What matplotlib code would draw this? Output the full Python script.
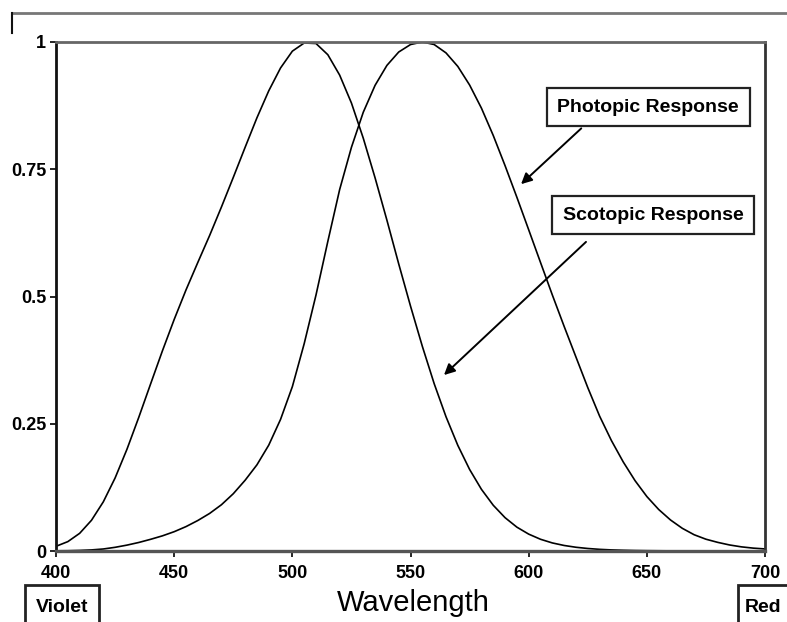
import matplotlib
matplotlib.use("Agg")
import matplotlib.pyplot as plt
from matplotlib.patches import Rectangle
from matplotlib.lines import Line2D

plt.rcParams['font.family'] = ['Liberation Sans', 'DejaVu Sans']

# longitudes de onda (nm), paso de 5 nm
wavelength = list(range(400, 705, 5))

# respuesta fotópica (visión diurna), pico en 555 nm
photopic = [0.0004, 0.0006, 0.0012, 0.0022, 0.0040, 0.0073, 0.0116, 0.0168,
            0.0230, 0.0298, 0.0380, 0.0480, 0.0600, 0.0739, 0.0910, 0.1126,
            0.1390, 0.1693, 0.2080, 0.2586, 0.3230, 0.4073, 0.5030, 0.6082,
            0.7100, 0.7932, 0.8620, 0.9149, 0.9540, 0.9803, 0.9950, 1.0000,
            0.9950, 0.9786, 0.9520, 0.9154, 0.8700, 0.8163, 0.7570, 0.6949,
            0.6310, 0.5668, 0.5030, 0.4412, 0.3810, 0.3210, 0.2650, 0.2170,
            0.1750, 0.1382, 0.1070, 0.0816, 0.0610, 0.0446, 0.0320, 0.0232,
            0.0170, 0.0119, 0.0082, 0.0057, 0.0041]

# respuesta escotópica (visión nocturna), pico en 507 nm
scotopic = [0.0093, 0.0185, 0.0348, 0.0604, 0.0966, 0.1436, 0.1998, 0.2625,
            0.3281, 0.3931, 0.4550, 0.5130, 0.5670, 0.6200, 0.6760, 0.7340,
            0.7930, 0.8510, 0.9040, 0.9490, 0.9820, 0.9980, 0.9970, 0.9750,
            0.9350, 0.8800, 0.8110, 0.7330, 0.6500, 0.5640, 0.4810, 0.4020,
            0.3288, 0.2639, 0.2076, 0.1602, 0.1212, 0.0899, 0.0655, 0.0469,
            0.0332, 0.0231, 0.0159, 0.0109, 0.0074, 0.0050, 0.0033, 0.0022,
            0.0015, 0.0010, 0.0007, 0.0005, 0.0003, 0.0002, 0.0001, 0.0001,
            0.0001, 0.0001, 0.0000, 0.0000, 0.0000]

x_ticks = [400, 450, 500, 550, 600, 650, 700]
y_ticks = [0, 0.25, 0.5, 0.75, 1]
y_labels = ['0', '0.25', '0.5', '0.75', '1']

fig = plt.figure(figsize=(7.87, 6.22), dpi=100)
ax = fig.add_axes([0.0712, 0.1141, 0.9009, 0.8184])

ax.plot(wavelength, scotopic, color='black', linewidth=1.2)
ax.plot(wavelength, photopic, color='black', linewidth=1.2)

ax.set_xlim(400, 700)
ax.set_ylim(0, 1)
ax.set_xticks(x_ticks)
ax.set_xticklabels([str(t) for t in x_ticks], fontsize=13, fontweight='bold')
ax.set_yticks(y_ticks)
ax.set_yticklabels(y_labels, fontsize=13, fontweight='bold')
ax.tick_params(direction='out', length=4, width=1.2, pad=3, colors='black')
ax.tick_params(axis='x', pad=6)

ax.spines['left'].set_color('#111111')
ax.spines['left'].set_linewidth(2)
ax.spines['bottom'].set_color('#555555')
ax.spines['bottom'].set_linewidth(2.4)
ax.spines['top'].set_color('#666666')
ax.spines['top'].set_linewidth(2)
ax.spines['right'].set_color('#333333')
ax.spines['right'].set_linewidth(2)

# etiquetas con flecha
box = dict(boxstyle='square,pad=0.55', facecolor='white', edgecolor='#222222', linewidth=1.6)
ax.text(650.5, 0.872, 'Photopic Response', ha='center', va='center',
        fontsize=14, fontweight='bold', bbox=box)
ax.text(652.6, 0.660, 'Scotopic Response', ha='center', va='center',
        fontsize=14, fontweight='bold', bbox=box)
arrow = dict(arrowstyle='-|>', color='black', linewidth=1.4, mutation_scale=16)
ax.annotate('', xy=(595.9, 0.717), xytext=(623.1, 0.834), arrowprops=arrow)
ax.annotate('', xy=(563.3, 0.342), xytext=(625.1, 0.611), arrowprops=arrow)

# marco superior de la imagen
fig.add_artist(Line2D([12 / 787, 1.0], [1 - 13 / 622, 1 - 13 / 622],
                      color='#777777', linewidth=2))
fig.add_artist(Line2D([12 / 787, 12 / 787], [1 - 13 / 622, 1 - 33 / 622],
                      color='#111111', linewidth=1.5))

# cajas Violet / Red
fig.add_artist(Rectangle((25 / 787, -0.02), 74 / 787, 0.02 + 37 / 622,
                         facecolor='white', edgecolor='#222222', linewidth=2))
fig.text(62 / 787, 1 - 607 / 622, 'Violet', ha='center', va='center',
         fontsize=14, fontweight='bold')
fig.add_artist(Rectangle((738 / 787, -0.02), 0.1, 0.02 + 37 / 622,
                         facecolor='white', edgecolor='#222222', linewidth=2))
fig.text(745 / 787, 1 - 607 / 622, 'Red', ha='left', va='center',
         fontsize=14, fontweight='bold')

fig.text(413 / 787, 1 - 603 / 622, 'Wavelength', ha='center', va='center', fontsize=21)

fig.savefig('out.png', dpi=100)
